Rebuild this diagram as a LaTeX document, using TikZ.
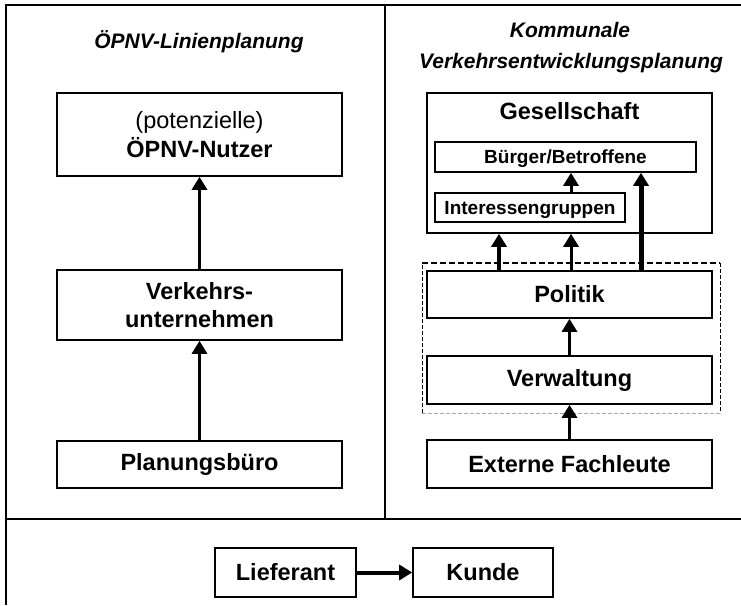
\documentclass[tikz,border=0pt]{standalone}
\usepackage{fontspec}
\setmainfont{Liberation Sans}
\usetikzlibrary{arrows.meta}
\begin{document}
\begin{tikzpicture}[x=1pt,y=-1pt,
 box/.style={draw, line width=1.6pt, inner sep=0pt, align=center, font=\fontsize{23.5}{28.5}\selectfont\bfseries},
 smallbox/.style={draw, line width=1.6pt, inner sep=0pt, text depth=0pt, font=\fontsize{19}{23}\selectfont\bfseries},
 titletext/.style={anchor=base, font=\fontsize{21}{25}\selectfont\bfseries\itshape},
 arr/.style={-{Triangle[length=13pt,width=15pt]}, line width=3pt},
 frameline/.style={line width=1.6pt}]
\useasboundingbox (0,0) rectangle (741,605);
% frame
\draw[frameline] (741,5) -- (6,5) -- (6,605);
\draw[frameline] (6,519) -- (741,519);
\draw[frameline] (385,5) -- (385,519);
% titles
\node[titletext] (t1) at (199,48.3) {ÖPNV-Linienplanung};
\node[titletext] (t2a) at (570,37.3) {Kommunale};
\node[titletext] (t2b) at (571,68) {Verkehrsentwicklungsplanung};
% left column
\node[box, minimum width=285, minimum height=83] (nutzer) at (199.5,134.5) {\mdseries (potenzielle)\\ÖPNV-Nutzer};
\node[box, minimum width=285, minimum height=70] (vu) at (199.5,305) {Verkehrs-\\unternehmen};
\node[box, minimum width=285, minimum height=47] (pb) at (199.5,464.5) {Planungsbüro};
\draw[arr] (pb.north) -- (vu.south);
\draw[arr] (vu.north) -- (nutzer.south);
% right column
\node[box, minimum width=285, minimum height=140] (ges) at (569.5,163) {};
\node[anchor=base, font=\fontsize{23.5}{28.5}\selectfont\bfseries] (gestext) at (569.5,119.3) {Gesellschaft};
\node[smallbox, minimum width=261, minimum height=30] (bur) at (565.5,157) {Bürger/Betroffene};
\node[smallbox, minimum width=190, minimum height=29] (int) at (530,207.5) {Interessengruppen};
\node[box, minimum width=285, minimum height=47] (pol) at (569.5,294.5) {Politik};
\node[box, minimum width=285, minimum height=48] (ver) at (569.5,380) {Verwaltung};
\node[box, minimum width=285, minimum height=48] (ext) at (569.5,464) {Externe Fachleute};
% dashed group frame
\coordinate (d1) at (422,263);
\coordinate (d2) at (720,263);
\coordinate (d3) at (720,413);
\coordinate (d4) at (422,413);
\draw[line width=1.4pt, dash pattern=on 6pt off 3pt] (d1) -- (d2);
\draw[line width=0.8pt, dash pattern=on 4pt off 2pt] (d2) -- (d3);
\draw[line width=0.8pt, gray!70, dash pattern=on 4pt off 2pt] (d3) -- (d4);
\draw[line width=0.8pt, dash pattern=on 4pt off 2pt] (d4) -- (d1);
% arrows right
\coordinate (c1) at (499,0);
\coordinate (c2) at (571,0);
\coordinate (c3) at (641,0);
\draw[arr] (ext.north) -- (ver.south);
\draw[arr] (ver.north) -- (pol.north |- ver.north) -- (pol.south);
\draw[arr, line width=4pt] (c1 |- pol.north) -- (c1 |- ges.south);
\draw[arr] (c2 |- pol.north) -- (c2 |- ges.south);
\draw[arr, line width=5pt] (c3 |- pol.north) -- (c3 |- bur.south);
\draw[arr] (c2 |- int.north) -- (c2 |- bur.south);
% bottom legend
\node[box, minimum width=141, minimum height=49] (lief) at (285.5,572.5) {Lieferant};
\node[box, minimum width=140, minimum height=49] (kunde) at (483,572.5) {Kunde};
\draw[arr, line width=4pt] (lief.east) -- (kunde.west);
\end{tikzpicture}
\end{document}
